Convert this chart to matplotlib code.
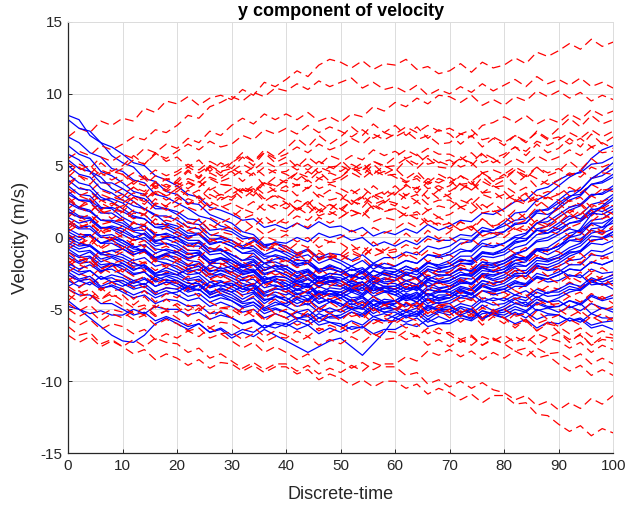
import numpy as np
import matplotlib
matplotlib.use("Agg")
import matplotlib.pyplot as plt

plt.rcParams.update({"font.family": ["Liberation Sans", "DejaVu Sans"], "font.size": 11,
                     "axes.unicode_minus": False})

# sample times (every 2 steps)
t = np.arange(0, 101, 2)

# ---- solid blue trajectories ----
blue_upper = [
    [8.5, 8.2, 7.1, 6.6, 5.7, 5.2, 4.9, 4.1, 3.9, 3.2, 3.0, 2.4, 2.3, 1.6, 1.3, 1.0, 0.4, 0.2, -0.5, -0.4, -0.8, -1.2, -0.9, -1.5, -1.3, -1.6, -2.0, -1.6, -2.2, -1.8, -2.0, -1.6, -1.8, -1.2, -1.3, -1.0, -0.4, -0.3, 0.4, 0.5, 1.0, 1.7, 1.8, 2.6, 3.0, 3.6, 4.2, 4.6, 5.5, 6.1, 6.4],
    [8.2, 7.6, 7.4, 6.6, 6.3, 5.8, 5.2, 5.0, 4.3, 4.0, 3.6, 3.0, 2.8, 2.1, 1.9, 1.6, 1.2, 1.3, 0.7, 0.9, 0.6, 1.0, 0.6, 1.1, 0.7, 0.8, 0.4, 0.7, 0.1, 0.4, 0.2, 0.6, 0.3, 0.9, 0.5, 0.8, 1.2, 1.1, 1.7, 1.6, 2.0, 2.5, 2.6, 3.3, 3.5, 4.0, 4.4, 4.5, 5.1, 5.2, 5.6],
    [7.0, 6.6, 5.9, 5.6, 4.8, 4.6, 4.0, 3.8, 3.0, 2.8, 2.4, 2.0, 1.5, 1.3, 0.8, 0.6, 0.1, -0.1, -0.7, -0.8, -1.2, -1.6, -1.6, -2.2, -2.1, -2.4, -2.8, -2.4, -2.9, -2.5, -2.6, -2.2, -2.4, -1.8, -1.9, -1.6, -1.0, -0.9, -0.2, 0.0, 0.4, 1.0, 1.0, 1.8, 2.0, 2.6, 3.2, 3.3, 4.1, 4.3, 4.8],
    [6.4, 5.8, 5.5, 4.6, 4.3, 3.8, 3.2, 3.0, 2.2, 2.0, 1.6, 1.0, 0.9, 0.2, 0.1, -0.2, -0.7, -0.8, -1.3, -1.3, -1.6, -2.0, -1.8, -2.3, -2.0, -2.2, -2.7, -2.5, -3.1, -2.8, -3.0, -2.6, -2.8, -2.2, -2.4, -2.4, -1.8, -1.8, -1.1, -1.2, -1.0, -0.4, -0.2, 0.6, 0.8, 1.4, 1.9, 2.2, 2.9, 3.1, 3.6],
    [5.8, 5.4, 4.6, 4.2, 3.4, 3.0, 2.5, 2.0, 1.6, 1.0, 0.8, 0.3, 0.3, -0.4, -0.3, -0.6, -1.1, -1.1, -1.8, -1.7, -2.0, -2.5, -2.3, -2.9, -2.7, -3.0, -3.4, -3.1, -3.7, -3.4, -3.6, -3.2, -3.5, -2.9, -3.2, -3.0, -2.6, -2.5, -1.9, -1.9, -1.6, -1.1, -0.9, -0.2, 0.0, 0.4, 1.0, 1.2, 1.9, 2.1, 2.6],
    [5.0, 4.4, 4.2, 3.4, 3.1, 2.6, 2.2, 2.0, 1.5, 1.5, 1.2, 0.7, 0.6, -0.1, -0.1, -0.4, -0.8, -0.6, -1.2, -0.9, -1.0, -1.4, -1.2, -1.8, -1.5, -1.8, -2.3, -2.1, -2.7, -2.4, -2.6, -3.0, -2.8, -3.4, -3.1, -3.2, -2.8, -2.9, -2.3, -2.4, -2.2, -1.6, -1.5, -0.8, -0.7, -0.2, 0.3, 0.5, 1.2, 1.3, 1.8],
    [4.4, 3.8, 3.6, 2.8, 2.5, 2.0, 1.5, 1.3, 0.7, 0.6, 0.2, -0.2, -0.2, -0.8, -0.8, -1.2, -1.6, -1.5, -2.1, -2.0, -2.4, -2.8, -2.6, -3.2, -3.0, -3.4, -3.0, -3.3, -2.8, -3.1, -3.0, -2.6, -2.8, -2.2, -2.4, -2.2, -1.8, -1.9, -1.3, -1.4, -1.2, -0.7, -0.5, 0.2, 0.3, 0.8, 1.3, 1.6, 2.3, 2.5, 3.0],
    [3.6, 3.0, 2.9, 2.1, 2.0, 1.4, 1.0, 0.8, 0.2, 0.2, -0.2, -0.6, -0.6, -1.2, -1.1, -1.6, -2.0, -1.9, -2.5, -2.3, -2.6, -3.0, -2.6, -3.1, -2.7, -2.8, -3.2, -3.1, -3.7, -3.5, -3.8, -3.4, -3.7, -3.1, -3.5, -3.4, -3.0, -3.3, -2.7, -3.0, -2.8, -2.3, -2.3, -1.6, -1.7, -1.4, -0.9, -0.6, 0.1, 0.0, 0.4],
    [3.0, 2.6, 2.6, 2.0, 2.1, 1.8, 1.4, 1.3, 0.7, 0.8, 0.4, 0.0, 0.3, -0.3, 0.0, -0.2, -0.6, -0.2, -0.7, -0.3, -0.4, 0.0, -0.3, 0.3, 0.0, 0.2, -0.2, 0.0, -0.6, -0.3, -0.6, -0.2, -0.5, 0.1, -0.2, -0.2, 0.2, 0.1, 0.7, 0.5, 0.8, 1.2, 1.3, 1.9, 1.9, 2.4, 2.9, 3.0, 3.7, 3.8, 4.2],
    [2.4, 2.0, 1.8, 1.2, 1.1, 0.8, 0.4, 0.2, -0.4, -0.4, -0.8, -1.2, -1.0, -1.6, -1.4, -1.8, -2.3, -2.2, -2.9, -2.8, -3.2, -3.6, -3.3, -3.9, -3.5, -3.6, -3.2, -3.5, -2.9, -3.2, -3.2, -3.6, -3.4, -4.0, -3.7, -3.8, -3.4, -3.6, -3.0, -3.2, -3.0, -2.6, -2.7, -2.1, -2.3, -2.0, -1.6, -1.5, -0.9, -1.0, -0.6],
    [5.4, 4.8, 4.6, 3.8, 3.8, 3.4, 2.9, 2.7, 2.0, 2.0, 1.8, 1.3, 1.2, 0.5, 0.6, 0.4, -0.1, 0.0, -0.6, -0.4, -0.6, -1.1, -0.8, -1.4, -1.1, -1.2, -1.6, -1.2, -1.8, -1.4, -1.4, -1.0, -1.2, -0.6, -0.8, -0.6, -0.1, -0.2, 0.5, 0.3, 0.4, 0.9, 1.0, 1.7, 1.6, 2.0, 2.6, 2.9, 3.7, 3.9, 4.4],
    [4.0, 3.4, 3.3, 2.6, 2.7, 2.4, 1.8, 1.6, 0.9, 0.9, 0.6, 0.1, 0.2, -0.5, -0.3, -0.6, -1.1, -0.9, -1.5, -1.2, -1.4, -1.9, -1.6, -2.3, -1.9, -2.2, -2.7, -2.2, -2.8, -2.3, -2.4, -2.0, -2.3, -1.7, -2.1, -2.0, -1.5, -1.7, -1.0, -1.2, -0.8, -0.3, -0.2, 0.5, 0.5, 1.0, 1.5, 1.3, 2.0, 1.8, 2.2],
    [3.2, 2.6, 2.5, 1.7, 1.7, 1.2, 0.6, 0.8, 0.1, 0.3, 0.0, -0.6, -0.3, -1.0, -0.8, -1.4, -1.9, -1.6, -2.3, -1.9, -2.2, -2.7, -2.3, -2.9, -2.5, -2.6, -3.1, -2.7, -3.3, -2.9, -3.0, -2.5, -2.9, -2.3, -2.7, -2.6, -2.1, -2.4, -1.7, -2.0, -1.8, -1.3, -1.6, -0.9, -1.2, -0.8, -0.2, -0.3, 0.6, 0.7, 1.4],
]
blue_mid = [
    [2.0, 1.5, 1.4, 0.7, 0.6, 0.2, -0.2, 0.0, -0.6, -0.4, -0.6, -1.1, -1.1, -1.8, -1.8, -2.2, -2.6, -2.4, -3.0, -2.7, -2.8, -3.3, -3.2, -3.9, -3.7, -4.0, -4.4, -4.1, -4.7, -4.3, -4.4, -4.0, -4.2, -3.6, -3.8, -3.6, -3.2, -3.2, -2.6, -2.7, -2.4, -2.0, -2.0, -1.4, -1.5, -1.2, -0.7, -0.4, 0.3, 0.5, 1.2],
    [1.4, 1.0, 1.2, 0.6, 0.8, 0.6, 0.1, -0.2, -0.8, -0.9, -1.2, -1.6, -1.7, -2.3, -2.3, -2.6, -3.0, -2.9, -3.5, -3.3, -3.6, -3.2, -3.5, -3.0, -3.3, -3.4, -3.8, -3.5, -4.1, -3.8, -4.0, -4.4, -4.2, -4.8, -4.5, -4.6, -4.2, -4.3, -3.7, -3.8, -3.6, -3.2, -3.3, -2.7, -2.9, -2.6, -2.2, -2.3, -1.7, -1.9, -1.6],
    [1.0, 0.6, 0.6, 0.0, 0.0, -0.4, -0.8, -0.9, -1.5, -1.5, -1.8, -2.2, -2.0, -2.6, -2.3, -2.4, -2.8, -2.6, -3.2, -2.9, -3.0, -3.4, -3.4, -4.0, -3.9, -4.2, -3.8, -4.1, -3.5, -3.8, -3.6, -3.2, -3.5, -2.9, -3.2, -3.0, -2.6, -2.7, -2.1, -2.3, -2.0, -1.6, -1.4, -0.8, -0.9, -0.6, -0.2, -0.1, 0.5, 0.3, 0.6],
    [0.6, 0.2, 0.2, -0.4, -0.4, -0.8, -1.2, -0.9, -1.5, -1.2, -1.4, -1.9, -2.0, -2.6, -2.6, -3.0, -3.4, -3.2, -3.8, -3.5, -3.8, -4.2, -4.0, -4.6, -4.3, -4.6, -5.0, -4.7, -5.3, -4.9, -5.0, -4.6, -4.8, -4.2, -4.4, -4.2, -3.8, -4.0, -3.4, -3.6, -3.4, -3.0, -3.3, -2.8, -3.1, -3.0, -2.6, -2.8, -2.2, -2.5, -2.4],
    [0.2, -0.2, 0.2, -0.4, -0.1, -0.2, -0.6, -1.0, -1.6, -1.8, -2.2, -2.6, -2.5, -3.1, -3.0, -3.4, -3.8, -3.5, -4.1, -3.8, -4.0, -3.6, -3.9, -3.4, -3.7, -3.8, -4.2, -4.1, -4.7, -4.5, -4.8, -5.2, -4.9, -5.5, -5.1, -5.2, -4.8, -5.0, -4.4, -4.7, -4.6, -4.2, -4.4, -3.8, -4.1, -4.0, -3.6, -3.7, -3.1, -3.3, -3.2],
    [-0.2, -0.6, -0.5, -1.1, -0.9, -1.2, -1.6, -1.4, -2.0, -1.8, -2.0, -2.4, -2.2, -2.8, -2.5, -2.8, -3.2, -3.4, -4.0, -4.0, -4.4, -4.8, -4.6, -5.2, -4.9, -5.2, -4.8, -5.0, -4.4, -4.6, -4.4, -4.8, -4.5, -5.1, -4.7, -4.8, -5.2, -5.0, -5.6, -5.3, -5.4, -5.0, -5.2, -4.6, -4.9, -4.8, -4.4, -4.6, -4.0, -4.3, -4.0],
    [-0.6, -1.0, -0.9, -1.5, -1.3, -1.6, -2.0, -1.9, -2.5, -2.3, -2.6, -3.0, -2.9, -3.5, -3.3, -3.6, -4.0, -3.8, -4.4, -4.1, -4.2, -4.6, -4.3, -4.9, -4.5, -4.6, -5.0, -4.9, -5.5, -5.3, -5.6, -5.2, -5.4, -4.8, -5.1, -5.0, -4.6, -4.8, -4.2, -4.4, -4.2, -4.6, -4.5, -5.1, -4.9, -5.2, -4.8, -5.1, -4.6, -4.9, -5.0],
    [-1.0, -1.4, -1.3, -1.9, -1.8, -2.2, -2.6, -2.4, -3.0, -2.7, -3.0, -3.4, -3.0, -3.5, -3.1, -3.2, -3.6, -3.7, -4.3, -4.3, -4.8, -5.2, -5.0, -5.6, -5.3, -5.6, -5.2, -5.5, -4.9, -5.2, -5.2, -5.6, -5.3, -5.9, -5.5, -5.8, -5.4, -5.7, -5.1, -5.4, -5.6, -5.2, -5.6, -5.0, -5.3, -5.4, -5.8, -5.7, -6.3, -6.1, -6.4],
    [-1.4, -1.8, -1.7, -2.3, -2.2, -2.6, -3.0, -2.8, -3.4, -3.1, -3.4, -3.8, -3.6, -4.2, -3.9, -4.2, -4.6, -4.5, -5.1, -4.9, -5.2, -5.6, -5.5, -6.1, -5.9, -6.2, -5.8, -6.1, -5.5, -5.8, -5.8, -5.4, -5.5, -4.9, -5.0, -4.8, -5.2, -5.0, -5.6, -5.3, -5.6, -6.0, -5.7, -6.3, -5.9, -6.0, -5.6, -5.9, -5.3, -5.6, -5.6],
    [-2.0, -2.4, -2.3, -2.9, -2.8, -3.2, -3.6, -3.4, -4.0, -3.7, -4.0, -4.4, -4.2, -4.8, -4.5, -4.8, -5.2, -5.0, -5.6, -5.3, -5.6, -5.2, -5.5, -4.9, -5.2, -5.0, -4.6, -4.9, -4.3, -4.7, -4.6, -4.2, -4.5, -3.9, -4.2, -4.0, -3.6, -3.9, -3.3, -3.6, -3.6, -4.0, -3.7, -4.2, -3.8, -3.8, -3.4, -3.6, -3.0, -3.3, -3.0],
    [-0.8, -1.3, -1.0, -1.7, -1.4, -1.8, -2.3, -1.9, -2.5, -2.1, -2.4, -2.9, -2.7, -3.4, -3.1, -3.4, -2.9, -3.3, -2.7, -3.1, -3.2, -3.7, -3.4, -4.1, -3.7, -4.0, -3.5, -3.9, -3.3, -3.7, -3.8, -4.3, -3.9, -4.6, -4.2, -4.2, -3.7, -4.0, -3.4, -3.7, -3.6, -3.1, -3.2, -2.5, -2.7, -2.4, -1.9, -1.9, -1.2, -1.3, -1.0],
    [1.2, 0.7, 0.8, 0.1, 0.2, -0.2, -0.7, -0.5, -1.1, -0.8, -1.0, -1.5, -1.2, -1.8, -1.4, -1.6, -2.1, -1.9, -2.6, -2.3, -2.6, -3.1, -2.8, -3.4, -3.0, -3.2, -3.7, -3.3, -3.9, -3.5, -3.6, -4.1, -3.8, -4.4, -4.0, -4.0, -3.5, -3.7, -3.0, -3.2, -3.0, -2.5, -2.5, -1.8, -1.9, -1.6, -1.1, -0.9, -0.2, -0.1, 0.2],
    [-1.2, -1.7, -1.4, -2.1, -1.8, -2.0, -2.5, -2.4, -3.1, -2.9, -3.2, -3.7, -3.3, -3.9, -3.5, -3.8, -4.3, -3.9, -4.6, -4.1, -4.4, -3.9, -4.3, -3.7, -4.1, -4.0, -4.5, -4.2, -4.9, -4.5, -4.6, -4.1, -4.5, -3.9, -4.3, -4.2, -3.7, -3.9, -3.2, -3.4, -3.2, -2.7, -2.7, -2.0, -2.1, -1.8, -1.3, -1.0, -0.2, -0.1, 0.4],
    [2.6, 2.1, 1.9, 1.2, 1.2, 1.0, 0.5, 0.5, -0.2, -0.1, -0.4, -0.9, -0.9, -1.6, -1.5, -2.0, -2.5, -2.4, -3.1, -3.0, -3.4, -3.9, -3.8, -4.5, -4.3, -4.8, -4.3, -4.7, -4.1, -4.5, -4.4, -3.9, -4.1, -3.4, -3.6, -3.4, -2.9, -3.2, -2.6, -2.9, -2.6, -2.1, -2.5, -1.9, -2.3, -2.2, -2.7, -2.6, -3.3, -3.2, -3.6],
    [0.4, 0.0, 0.2, -0.4, -0.2, -0.6, -1.0, -0.8, -1.4, -1.2, -1.6, -2.0, -1.8, -2.4, -2.1, -2.4, -2.0, -2.4, -1.8, -2.2, -2.2, -2.7, -2.4, -3.1, -2.8, -3.0, -2.6, -2.9, -2.3, -2.6, -2.4, -2.0, -2.3, -1.7, -2.0, -1.8, -1.3, -1.3, -0.6, -0.7, -0.4, 0.1, 0.3, 1.0, 1.1, 1.6, 2.1, 2.3, 3.0, 3.0, 3.4],
]
blue_lower = [
    [-2.6, -3.0, -2.9, -3.5, -3.4, -3.8, -4.2, -4.0, -4.6, -4.3, -4.4, -4.8, -4.7, -5.3, -5.2, -5.6, -6.0, -5.7, -6.3, -5.9, -6.0, -6.4, -6.1, -6.7, -6.3, -6.6, -6.2, -6.3, -5.7, -5.8, -5.4, -5.0, -5.3, -4.7, -5.0, -5.0, -5.4, -5.1, -5.7, -5.3, -5.2, -4.8, -5.1, -4.5, -4.8, -4.8, -4.4, -4.7, -4.1, -4.4, -4.2],
    [-4.4, -5.0, -5.6, -6.2, -6.8, -7.2, -7.3, -6.8, -6.0, -5.6, -6.0, -6.4, -6.0, -6.6, -6.3, -6.8, -6.4, -6.6, -6.1, -6.3, -6.0, -5.6, -5.8, -5.3, -5.6, -5.6, -5.2, -5.4, -4.9, -5.2, -5.0, -4.6, -4.8, -4.3, -4.6, -4.4, -4.0, -4.2, -3.7, -4.0, -3.8, -3.4, -3.4, -2.8, -2.9, -2.6, -2.2, -2.3, -1.7, -1.9, -1.6],
    [-3.6, -4.0, -4.0, -4.6, -4.6, -5.0, -5.4, -5.2, -5.8, -5.5, -5.8, -6.2, -6.0, -6.6, -6.4, -7.0, -6.6, -6.9, -6.4, -6.8, -7.2, -7.6, -8.0, -7.6, -7.2, -7.0, -7.6, -8.2, -7.4, -6.6, -5.6, -5.9, -5.6, -6.2, -6.0, -6.0, -5.6, -5.8, -5.3, -5.2, -5.0, -4.6, -4.8, -4.3, -4.5, -4.2, -3.8, -3.6, -3.0, -2.9, -2.6],
    [-4.8, -5.0, -5.3, -5.1, -5.4, -5.4, -5.0, -5.3, -4.8, -5.0, -5.0, -5.4, -5.2, -5.7, -5.4, -5.6, -6.0, -5.8, -6.3, -6.0, -6.2, -5.8, -6.1, -5.6, -5.9, -6.0, -6.4, -6.2, -6.7, -6.4, -6.4, -6.0, -6.2, -5.7, -6.0, -5.8, -5.4, -5.6, -5.1, -5.3, -5.0, -5.4, -5.2, -5.7, -5.4, -5.4, -5.8, -5.6, -6.1, -5.9, -5.8],
    [-0.4, -0.8, -0.6, -1.1, -0.9, -0.8, -1.2, -0.9, -1.4, -1.1, -1.0, -1.4, -1.2, -1.8, -1.5, -1.6, -2.0, -1.7, -2.3, -2.0, -2.0, -2.4, -2.2, -2.8, -2.5, -2.6, -2.2, -2.5, -1.9, -2.2, -2.0, -1.6, -1.8, -1.2, -1.4, -1.2, -0.8, -1.0, -0.4, -0.6, -0.4, 0.0, -0.1, 0.5, 0.3, 0.6, 1.0, 1.1, 1.7, 1.6, 2.0],
    [1.8, 1.4, 1.3, 0.7, 0.7, 0.4, 0.0, 0.3, -0.3, 0.0, 0.0, -0.4, -0.4, -1.0, -0.9, -1.2, -1.6, -1.3, -1.8, -1.5, -1.4, -1.8, -1.8, -2.4, -2.2, -2.4, -2.0, -2.4, -1.8, -2.1, -2.2, -2.6, -2.3, -2.9, -2.6, -2.6, -2.2, -2.3, -1.7, -1.8, -1.6, -1.2, -0.9, -0.3, -0.2, 0.2, 0.6, 0.4, 1.0, 0.7, 1.0],
    [-1.8, -2.2, -1.9, -2.4, -2.0, -1.8, -2.2, -2.1, -2.7, -2.5, -2.6, -2.2, -2.5, -1.9, -2.2, -2.0, -2.4, -2.3, -2.9, -2.7, -2.8, -3.2, -2.9, -3.4, -3.1, -3.0, -3.4, -3.1, -3.7, -3.4, -3.4, -3.0, -3.3, -2.7, -3.0, -2.8, -2.4, -2.7, -2.1, -2.4, -2.2, -1.8, -2.0, -1.4, -1.6, -1.4, -1.0, -1.0, -0.4, -0.5, -0.2],
    [0.0, -0.4, -0.6, -1.2, -1.2, -1.4, -1.8, -2.0, -2.6, -2.6, -2.8, -3.2, -3.2, -3.8, -3.6, -3.8, -3.4, -3.7, -3.1, -3.4, -3.4, -3.0, -3.3, -2.7, -3.0, -3.0, -2.6, -2.9, -2.3, -2.6, -2.8, -2.4, -2.6, -2.0, -2.2, -2.0, -1.6, -1.6, -1.0, -1.1, -0.8, -0.2, 0.2, 1.0, 1.4, 2.2, 2.8, 3.3, 4.1, 4.6, 5.2],
    [-3.0, -3.4, -3.1, -3.6, -3.3, -3.6, -4.0, -3.7, -4.2, -3.9, -3.8, -3.4, -3.7, -3.1, -3.4, -3.2, -3.6, -3.3, -3.9, -3.6, -3.6, -4.0, -3.7, -4.3, -3.9, -4.0, -3.6, -4.0, -3.4, -3.7, -4.0, -3.6, -3.6, -3.0, -3.1, -3.0, -2.6, -2.6, -2.0, -2.1, -1.8, -1.4, -1.4, -0.8, -0.9, -0.6, 0.0, 0.6, 1.6, 2.2, 2.8],
    [-2.2, -2.6, -2.3, -2.9, -2.6, -2.8, -3.2, -2.9, -3.4, -3.1, -3.2, -3.6, -3.6, -4.2, -4.0, -4.4, -4.8, -4.5, -5.0, -4.7, -4.6, -4.2, -4.4, -3.8, -4.0, -3.8, -3.4, -3.7, -3.1, -3.4, -3.4, -3.8, -3.5, -4.1, -3.8, -3.8, -4.2, -3.9, -4.5, -4.2, -4.4, -4.0, -4.2, -3.6, -3.9, -3.6, -3.2, -3.4, -2.8, -3.1, -2.8],
    [-3.4, -3.0, -3.3, -2.7, -3.1, -3.0, -3.4, -3.2, -3.8, -3.5, -3.6, -4.1, -3.9, -4.5, -4.2, -4.4, -4.9, -4.7, -5.3, -5.0, -5.2, -5.7, -5.3, -5.9, -5.5, -5.4, -5.0, -5.3, -4.7, -5.0, -4.6, -4.1, -4.3, -3.6, -3.8, -3.6, -3.1, -3.2, -2.5, -2.6, -2.4, -1.8, -1.7, -0.9, -0.9, -0.6, 0.0, 0.2, 1.0, 1.0, 1.4],
    [-2.4, -2.9, -2.7, -3.4, -3.1, -3.4, -3.0, -3.3, -2.7, -3.0, -3.0, -3.5, -3.3, -4.0, -3.7, -4.0, -4.5, -4.2, -4.9, -4.5, -4.8, -4.3, -4.7, -4.1, -4.5, -4.2, -4.7, -4.4, -5.1, -4.7, -5.0, -5.5, -5.1, -5.7, -5.2, -5.4, -4.9, -5.3, -4.7, -5.1, -4.8, -4.3, -4.7, -4.1, -4.5, -4.4, -4.9, -4.6, -5.3, -4.9, -5.2],
]

# ---- dashed red trajectories ----
red_high = [
    [7.0, 7.6, 7.3, 8.1, 7.8, 8.3, 8.1, 9.0, 8.7, 9.5, 9.3, 9.8, 9.2, 9.7, 9.9, 9.6, 10.3, 9.9, 10.8, 10.5, 11.0, 11.6, 11.2, 12.0, 12.4, 12.2, 11.8, 12.3, 11.7, 12.1, 12.0, 12.4, 11.7, 11.9, 11.4, 11.6, 12.1, 11.5, 12.2, 11.8, 12.0, 12.5, 12.1, 12.9, 12.6, 13.0, 13.5, 13.1, 13.8, 13.3, 13.6],
    [5.5, 6.0, 5.7, 6.4, 6.1, 6.5, 7.0, 6.8, 7.5, 7.3, 7.8, 8.5, 8.3, 9.1, 9.4, 9.8, 9.5, 10.1, 9.8, 10.4, 10.2, 10.7, 10.3, 10.9, 10.5, 10.8, 11.1, 10.4, 10.8, 10.3, 10.5, 10.1, 10.6, 9.9, 10.3, 10.0, 10.5, 10.1, 10.7, 10.2, 10.6, 11.0, 10.5, 11.2, 10.7, 11.0, 10.6, 11.1, 10.5, 10.8, 10.4],
    [4.5, 5.1, 4.8, 5.6, 5.3, 5.8, 5.5, 6.2, 5.9, 6.5, 6.2, 6.9, 6.6, 7.4, 7.1, 7.8, 8.3, 7.9, 8.6, 8.2, 8.6, 8.2, 8.7, 8.1, 8.4, 8.0, 8.6, 8.4, 9.1, 8.8, 9.4, 9.1, 9.7, 9.3, 9.9, 9.8, 9.4, 9.9, 9.2, 9.6, 9.2, 9.8, 9.5, 10.2, 9.8, 10.2, 9.7, 10.1, 9.5, 9.9, 9.6],
    [3.8, 4.3, 4.0, 4.7, 4.4, 4.8, 5.4, 5.1, 5.8, 5.5, 6.0, 6.5, 6.1, 6.7, 6.3, 6.5, 7.1, 6.8, 7.5, 7.2, 7.6, 7.2, 7.8, 7.3, 7.7, 7.4, 7.0, 7.5, 6.9, 7.3, 7.0, 7.4, 6.8, 7.1, 6.5, 6.6, 7.2, 7.0, 7.8, 8.0, 8.4, 8.0, 8.5, 7.9, 8.3, 8.0, 8.6, 8.2, 8.9, 8.5, 8.8],
    [3.0, 3.5, 3.2, 3.9, 3.6, 4.0, 4.5, 4.1, 4.7, 4.3, 4.6, 5.1, 4.7, 5.3, 4.9, 5.2, 5.7, 5.3, 5.9, 5.5, 5.8, 6.3, 5.9, 6.5, 6.1, 6.4, 6.9, 6.5, 7.2, 6.8, 7.2, 7.7, 7.3, 7.8, 7.4, 7.6, 7.2, 7.5, 6.8, 7.0, 6.6, 7.1, 6.7, 7.3, 6.8, 7.0, 6.5, 6.9, 6.3, 6.6, 6.2],
    [2.4, 2.9, 2.6, 3.3, 3.0, 3.4, 3.9, 3.6, 4.3, 4.0, 4.4, 4.9, 4.5, 5.0, 4.6, 4.8, 4.4, 4.9, 4.3, 4.7, 4.4, 4.0, 4.6, 4.1, 4.5, 4.2, 4.8, 4.6, 5.3, 5.0, 5.6, 6.1, 5.7, 6.2, 5.8, 5.8, 5.4, 5.9, 5.2, 5.5, 5.0, 5.5, 5.1, 5.7, 5.3, 5.6, 6.1, 5.7, 6.3, 5.9, 6.0],
    [1.6, 2.1, 1.8, 2.4, 2.0, 2.2, 2.8, 2.5, 3.2, 2.9, 3.2, 3.8, 3.5, 4.2, 3.9, 4.2, 4.7, 4.3, 4.9, 4.5, 4.6, 5.1, 4.7, 5.3, 4.9, 5.0, 4.6, 4.9, 4.3, 4.6, 4.2, 3.8, 4.3, 3.7, 4.1, 3.8, 4.3, 3.9, 4.5, 4.0, 4.2, 4.7, 4.3, 4.9, 4.5, 4.8, 4.3, 4.7, 4.1, 4.5, 4.4],
    [2.0, 2.6, 2.3, 3.0, 2.7, 3.0, 3.5, 3.2, 3.9, 3.5, 3.8, 3.4, 3.9, 3.3, 3.7, 3.6, 3.1, 3.6, 3.0, 3.4, 3.2, 3.7, 3.4, 4.1, 3.8, 4.0, 4.5, 4.1, 4.7, 4.3, 4.4, 3.9, 4.1, 3.4, 3.6, 3.2, 3.7, 3.3, 3.9, 3.5, 3.6, 3.1, 3.5, 2.9, 3.2, 3.0, 3.5, 3.1, 3.7, 3.3, 3.4],
    [3.4, 2.9, 3.2, 2.5, 2.8, 2.6, 3.1, 2.9, 3.6, 3.2, 3.6, 4.1, 3.8, 4.5, 4.1, 4.6, 5.1, 4.7, 5.3, 4.9, 5.2, 4.7, 5.1, 4.5, 4.9, 4.6, 5.1, 4.7, 5.3, 4.9, 5.0, 5.5, 5.1, 5.7, 5.2, 5.4, 4.9, 5.2, 4.5, 4.7, 4.4, 4.9, 4.5, 4.1, 3.7, 4.0, 4.5, 4.2, 4.9, 4.6, 5.0],
    [0.6, 1.2, 1.0, 1.8, 1.6, 2.4, 2.9, 2.6, 3.3, 2.9, 3.4, 2.9, 3.3, 2.7, 3.0, 2.8, 3.3, 3.1, 3.8, 3.5, 4.0, 4.5, 4.2, 4.9, 4.6, 5.2, 5.7, 5.4, 6.1, 5.7, 6.0, 5.5, 5.8, 5.1, 5.3, 5.0, 5.5, 5.2, 5.9, 5.5, 5.8, 6.3, 6.0, 6.7, 6.4, 6.8, 7.3, 6.9, 7.5, 7.0, 7.4],
    [5.2, 4.7, 5.0, 4.3, 4.6, 4.4, 3.9, 4.1, 3.4, 3.7, 3.4, 3.9, 3.5, 4.1, 3.7, 3.6, 3.1, 3.4, 2.7, 2.9, 2.4, 1.9, 2.2, 1.5, 1.8, 1.4, 1.9, 1.6, 2.3, 1.9, 2.0, 1.5, 1.8, 1.1, 1.4, 1.0, 0.5, 0.8, 0.1, 0.4, 0.2, 0.7, 0.5, 1.2, 0.9, 1.4, 1.9, 1.6, 2.3, 2.0, 2.4],
    [3.6, 4.3, 3.7, 4.5, 4.0, 4.4, 3.7, 4.3, 3.5, 4.1, 3.8, 4.6, 4.1, 4.9, 4.3, 4.6, 3.9, 4.5, 3.6, 4.2, 3.8, 4.5, 3.9, 4.6, 3.9, 4.2, 4.9, 4.3, 5.1, 4.4, 4.8, 4.1, 4.6, 3.8, 4.4, 4.0, 3.3, 3.9, 3.1, 3.6, 3.2, 2.5, 3.0, 2.2, 2.8, 2.4, 1.7, 2.3, 1.5, 2.1, 1.6],
    [2.8, 2.1, 2.7, 1.9, 2.4, 2.0, 2.8, 2.3, 3.1, 2.6, 3.0, 2.3, 2.9, 2.2, 2.8, 2.6, 3.4, 2.9, 3.8, 3.2, 3.6, 2.9, 3.5, 2.8, 3.3, 3.0, 2.3, 2.8, 2.0, 2.5, 2.2, 3.0, 2.5, 3.3, 2.7, 3.0, 3.8, 3.3, 4.2, 3.6, 4.0, 4.7, 4.1, 4.9, 4.3, 4.6, 5.3, 4.7, 5.5, 4.9, 5.2],
    [4.2, 4.9, 4.4, 5.2, 4.6, 5.0, 5.7, 5.1, 5.9, 5.3, 5.6, 4.9, 5.4, 4.6, 5.2, 4.8, 5.6, 5.0, 5.9, 5.2, 5.6, 4.9, 5.6, 5.0, 5.7, 5.4, 4.7, 5.2, 4.4, 5.0, 4.6, 5.4, 4.8, 5.5, 4.9, 4.8, 5.6, 5.0, 5.8, 5.2, 5.6, 6.3, 5.7, 6.5, 5.9, 6.2, 6.9, 6.3, 7.2, 6.5, 7.0],
    [0.8, 1.5, 1.0, 1.9, 1.3, 1.8, 2.5, 1.9, 2.7, 2.1, 2.6, 3.3, 2.7, 3.5, 2.9, 3.4, 2.7, 3.3, 2.5, 3.0, 2.6, 1.9, 2.5, 1.7, 2.3, 1.8, 2.6, 2.1, 2.9, 2.4, 3.0, 3.7, 3.1, 3.9, 3.3, 3.6, 4.3, 3.7, 4.5, 3.9, 4.4, 3.7, 4.3, 3.5, 4.0, 3.6, 2.9, 3.5, 2.8, 3.4, 3.2],
    [1.4, 2.1, 1.7, 2.6, 2.2, 2.8, 3.5, 3.0, 3.8, 3.3, 4.0, 4.7, 4.2, 5.0, 4.5, 5.2, 5.9, 5.3, 6.1, 5.6, 6.2, 6.9, 6.3, 7.1, 6.5, 7.0, 7.7, 7.1, 7.9, 7.3, 7.8, 7.1, 7.7, 6.9, 7.5, 7.2, 6.5, 7.1, 6.3, 6.9, 6.4, 7.1, 6.6, 7.4, 6.9, 7.6, 8.3, 7.7, 8.5, 7.9, 8.2],
]
red_mid = [
    [0.4, 0.9, 0.6, 1.3, 1.0, 1.4, 1.9, 1.6, 2.3, 1.9, 2.2, 2.7, 2.4, 3.0, 2.6, 3.0, 3.5, 3.2, 3.9, 3.6, 4.0, 3.6, 4.0, 3.4, 3.7, 3.4, 3.0, 3.5, 2.9, 3.2, 3.0, 3.6, 3.4, 4.1, 3.8, 4.2, 3.7, 3.8, 3.1, 3.2, 2.6, 3.0, 2.4, 2.7, 2.1, 2.0, 2.6, 2.3, 2.9, 2.5, 2.8],
    [1.0, 0.6, 1.0, 0.4, 0.7, 0.4, 1.0, 0.9, 1.6, 1.4, 1.6, 2.1, 1.8, 2.5, 2.1, 2.4, 2.0, 2.5, 1.9, 2.3, 2.0, 2.6, 2.3, 3.0, 2.6, 2.8, 2.4, 2.9, 2.3, 2.6, 2.4, 2.0, 2.5, 1.9, 2.2, 2.0, 2.6, 2.3, 3.0, 2.7, 3.0, 2.6, 3.1, 2.5, 2.8, 2.6, 2.1, 2.4, 1.7, 2.0, 1.6],
    [-0.2, 0.3, 0.0, 0.7, 0.4, 0.8, 0.4, 0.9, 0.3, 0.7, 0.6, 1.1, 0.8, 1.4, 1.0, 1.4, 2.0, 1.7, 2.4, 2.0, 2.4, 2.0, 2.5, 1.9, 2.3, 2.0, 1.5, 1.8, 1.1, 1.4, 1.2, 1.7, 1.3, 1.9, 1.4, 1.6, 2.1, 1.7, 2.3, 1.8, 2.0, 2.6, 2.3, 3.0, 2.7, 3.0, 2.5, 2.8, 2.1, 2.4, 2.2],
    [-0.8, -0.3, -0.6, 0.1, -0.2, 0.2, -0.2, 0.3, -0.3, 0.1, 0.0, 0.5, 0.2, 0.9, 0.5, 0.8, 0.3, 0.8, 0.2, 0.6, 0.4, 1.0, 0.7, 1.4, 1.0, 1.4, 1.9, 1.5, 2.2, 1.8, 2.0, 1.5, 1.6, 0.9, 1.0, 0.6, 1.1, 0.7, 1.3, 0.8, 1.0, 0.5, 0.9, 0.2, 0.5, 0.2, 0.7, 0.3, 0.9, 0.4, 0.6],
    [-2.0, -1.5, -1.8, -1.1, -1.4, -1.0, -0.4, -0.6, 0.2, 0.0, 0.4, -0.1, 0.3, -0.3, 0.1, -0.2, -0.7, -0.3, -1.0, -0.6, -1.0, -0.4, -0.7, 0.0, -0.3, 0.0, 0.5, 0.1, 0.7, 0.3, 0.6, 1.1, 0.7, 1.3, 0.8, 1.0, 0.5, 0.8, 0.1, 0.3, 0.0, 0.6, 0.3, 1.0, 0.7, 1.2, 0.7, 1.0, 0.3, 0.5, 0.0],
    [-1.4, -1.9, -1.5, -2.2, -1.8, -2.0, -1.5, -1.8, -1.1, -1.3, -1.0, -0.5, -0.8, -0.1, -0.4, -0.2, -0.7, -0.3, -0.9, -0.5, -0.6, -1.1, -0.8, -1.5, -1.1, -1.4, -0.9, -1.3, -0.7, -1.1, -1.0, -0.5, -0.8, -0.1, -0.3, 0.0, -0.5, -0.1, -0.7, -0.3, -0.6, -1.1, -0.7, -1.3, -0.8, -1.0, -1.5, -1.1, -1.8, -1.3, -1.6],
    [-3.0, -2.5, -2.8, -2.1, -2.5, -2.2, -2.7, -2.3, -2.9, -2.4, -2.6, -2.0, -2.3, -1.6, -1.9, -1.6, -2.1, -1.7, -2.3, -1.9, -2.0, -1.5, -1.8, -1.1, -1.4, -1.2, -1.7, -1.4, -2.1, -1.7, -2.0, -2.5, -2.1, -2.7, -2.2, -2.6, -2.1, -2.5, -1.9, -2.3, -2.0, -1.5, -1.8, -1.2, -1.6, -1.4, -1.9, -1.7, -2.4, -2.1, -2.6],
    [-2.6, -3.1, -2.7, -3.3, -2.9, -3.0, -3.5, -3.2, -3.9, -3.5, -3.6, -3.1, -3.5, -2.9, -3.2, -3.0, -2.5, -2.8, -2.2, -2.6, -2.4, -2.9, -2.5, -3.2, -2.8, -3.0, -3.5, -3.1, -3.8, -3.4, -3.6, -3.0, -3.3, -2.6, -2.9, -2.6, -3.1, -2.7, -3.4, -3.0, -3.2, -3.7, -3.3, -3.9, -3.4, -3.6, -3.1, -3.5, -2.9, -3.3, -3.0],
    [-4.0, -4.5, -4.0, -4.3, -3.7, -3.6, -3.1, -3.5, -2.9, -3.3, -3.0, -3.5, -3.3, -4.0, -3.7, -4.0, -4.5, -4.1, -4.8, -4.3, -4.6, -4.1, -4.5, -3.9, -4.3, -4.0, -3.5, -3.8, -3.1, -3.4, -3.0, -3.5, -3.3, -4.0, -3.6, -4.0, -4.5, -4.2, -4.9, -4.5, -5.0, -4.5, -4.9, -4.3, -4.7, -4.6, -4.1, -4.5, -3.9, -4.3, -4.0],
    [0.0, -0.5, -0.1, -0.8, -0.4, -0.6, -1.1, -0.8, -1.5, -1.1, -1.4, -1.9, -1.5, -2.2, -1.8, -2.2, -1.7, -2.1, -1.5, -1.8, -1.6, -2.1, -1.8, -2.5, -2.1, -2.4, -2.9, -2.5, -3.2, -2.8, -3.0, -2.5, -2.9, -2.3, -2.6, -2.4, -1.9, -2.2, -1.5, -1.8, -1.6, -1.1, -1.4, -0.7, -1.0, -0.4, 0.1, -0.2, 0.5, 0.2, 0.8],
    [1.2, 0.7, 1.0, 0.3, 0.5, 0.0, -0.5, -0.2, -0.9, -0.6, -1.0, -1.5, -1.2, -1.9, -1.5, -1.8, -2.3, -2.0, -2.7, -2.3, -2.8, -3.3, -2.9, -3.5, -3.1, -3.4, -2.9, -3.3, -2.7, -3.0, -2.6, -3.1, -2.8, -3.5, -3.1, -3.4, -3.9, -3.6, -4.3, -3.9, -4.2, -3.7, -4.1, -3.5, -3.8, -3.6, -4.1, -3.8, -4.5, -4.1, -4.6],
    [2.6, 2.1, 2.4, 1.7, 1.9, 1.8, 1.3, 1.6, 0.9, 1.2, 1.0, 0.5, 0.8, 0.1, 0.4, 0.2, -0.3, 0.0, -0.7, -0.4, -0.8, -1.3, -0.9, -1.6, -1.2, -1.6, -1.1, -1.4, -0.7, -1.0, -0.8, -1.3, -1.0, -1.7, -1.3, -1.8, -2.3, -2.0, -2.7, -2.3, -2.6, -2.1, -2.5, -1.9, -2.2, -2.0, -1.5, -1.8, -1.1, -1.5, -1.2],
    [1.8, 1.3, 1.6, 0.9, 1.1, 1.2, 1.7, 1.6, 2.4, 2.2, 2.8, 2.3, 2.6, 1.9, 2.2, 1.8, 1.3, 1.6, 0.9, 1.2, 1.0, 1.5, 1.2, 1.9, 1.6, 2.0, 2.5, 2.3, 3.0, 2.7, 3.2, 2.7, 3.0, 2.3, 2.6, 2.6, 2.1, 2.4, 1.7, 1.9, 1.4, 0.9, 1.2, 0.5, 0.8, 0.6, 0.1, 0.4, -0.3, 0.0, -0.4],
    [-1.8, -1.3, -1.6, -0.9, -1.2, -0.8, -1.3, -1.0, -1.7, -1.3, -1.6, -1.1, -1.4, -0.7, -1.0, -0.8, -0.3, -0.6, 0.1, -0.2, 0.2, -0.3, 0.0, -0.7, -0.3, -0.4, -0.9, -0.6, -1.3, -1.0, -1.6, -1.1, -1.5, -0.9, -1.2, -1.2, -1.7, -1.4, -2.1, -1.8, -2.4, -2.9, -2.5, -3.2, -2.8, -3.2, -2.7, -3.1, -2.5, -2.9, -2.6],
    [-0.6, 0.1, -0.4, 0.5, -0.1, 0.4, 1.1, 0.5, 1.3, 0.8, 1.4, 0.7, 1.3, 0.5, 1.1, 0.6, 1.3, 0.7, 1.5, 0.9, 1.4, 2.1, 1.6, 2.4, 1.9, 2.6, 3.3, 2.8, 3.6, 3.0, 3.6, 2.9, 3.5, 2.7, 3.3, 2.8, 2.1, 2.7, 1.9, 2.4, 1.8, 1.1, 1.7, 0.9, 1.5, 1.0, 1.7, 1.1, 1.9, 1.3, 1.6],
    [-1.6, -2.3, -1.7, -2.5, -1.9, -2.4, -1.7, -2.3, -1.5, -2.1, -1.6, -2.3, -1.8, -2.6, -2.0, -2.6, -3.3, -2.7, -3.5, -2.9, -3.0, -2.3, -2.9, -2.1, -2.7, -2.2, -2.9, -2.3, -3.1, -2.5, -2.8, -3.5, -2.9, -3.7, -3.1, -3.6, -2.9, -3.5, -2.7, -3.3, -3.0, -2.3, -2.9, -2.1, -2.7, -2.2, -2.9, -2.4, -3.2, -2.7, -3.4],
    [0.2, -0.5, 0.1, -0.7, -0.1, -0.8, -0.1, -0.7, 0.1, -0.5, -0.2, -0.9, -0.3, -1.1, -0.5, -1.0, -1.7, -1.1, -1.9, -1.3, -1.8, -1.1, -1.7, -0.9, -1.5, -1.2, -0.5, -1.1, -0.3, -0.9, -0.4, 0.3, -0.3, 0.5, -0.1, 0.4, 1.1, 0.5, 1.3, 0.7, 1.2, 1.9, 1.3, 2.1, 1.5, 2.0, 1.3, 1.9, 1.1, 1.7, 1.2],
]
red_low = [
    [-5.0, -5.5, -5.1, -5.8, -5.3, -5.6, -5.1, -5.4, -4.7, -5.0, -4.6, -5.1, -4.7, -5.3, -4.9, -5.0, -5.5, -5.1, -5.8, -5.3, -5.6, -5.1, -5.5, -4.9, -5.3, -5.0, -5.5, -5.3, -6.0, -5.6, -6.0, -5.5, -5.8, -5.1, -5.4, -5.0, -5.5, -5.1, -5.8, -5.3, -5.6, -6.1, -5.8, -6.5, -6.0, -6.2, -5.7, -6.1, -5.5, -5.9, -5.6],
    [-5.6, -6.1, -5.7, -6.4, -6.0, -6.2, -6.7, -6.4, -7.1, -6.7, -7.0, -6.5, -6.9, -6.3, -6.7, -6.6, -7.1, -6.7, -7.3, -6.9, -7.0, -6.5, -6.9, -6.3, -6.6, -6.2, -6.7, -6.3, -6.9, -6.5, -6.6, -7.1, -6.8, -7.5, -7.1, -7.6, -7.1, -7.5, -6.9, -7.2, -6.8, -7.3, -6.9, -7.5, -7.0, -7.2, -7.7, -7.3, -8.0, -7.5, -7.8],
    [-6.2, -6.8, -6.6, -7.4, -7.1, -7.6, -7.1, -7.6, -7.0, -7.3, -7.4, -8.0, -7.7, -8.4, -8.1, -8.6, -9.1, -8.7, -9.2, -8.8, -8.8, -9.3, -8.9, -9.5, -9.1, -9.4, -8.9, -9.3, -8.7, -9.0, -9.0, -9.6, -9.4, -10.2, -9.9, -10.4, -10.0, -10.5, -10.1, -10.6, -10.8, -11.3, -11.0, -11.7, -11.4, -12.0, -11.5, -11.9, -11.2, -11.6, -11.0],
    [-6.8, -7.3, -6.9, -7.6, -7.2, -7.6, -8.1, -7.8, -8.5, -8.1, -8.4, -8.9, -8.5, -9.1, -8.7, -8.8, -9.3, -8.9, -9.4, -9.0, -9.0, -9.5, -9.2, -9.9, -9.5, -9.8, -10.3, -9.9, -10.4, -10.0, -10.0, -10.5, -10.2, -10.9, -10.5, -10.8, -11.3, -10.9, -11.5, -11.0, -11.0, -11.6, -11.5, -12.3, -12.4, -13.0, -13.5, -13.1, -13.8, -13.3, -13.6],
    [-4.6, -5.1, -4.7, -5.4, -5.0, -5.2, -5.7, -5.4, -6.1, -5.7, -6.0, -6.5, -6.3, -7.0, -6.7, -7.2, -7.7, -7.3, -8.0, -7.6, -8.0, -8.5, -8.1, -8.8, -8.4, -8.6, -9.1, -8.7, -9.2, -8.8, -8.8, -8.3, -8.6, -7.9, -8.2, -7.8, -8.3, -7.9, -8.5, -8.0, -8.4, -7.9, -8.3, -7.7, -8.1, -8.0, -8.5, -8.1, -8.8, -8.4, -8.8],
    [-3.4, -3.9, -3.6, -4.3, -3.9, -4.4, -4.9, -4.7, -5.4, -5.1, -5.6, -6.1, -5.7, -6.3, -5.9, -6.0, -6.5, -6.2, -6.9, -6.5, -6.8, -7.3, -6.9, -7.5, -7.1, -7.4, -6.9, -7.3, -6.7, -7.1, -7.0, -6.5, -6.9, -6.3, -6.7, -6.6, -7.1, -6.8, -7.5, -7.1, -7.4, -7.9, -7.7, -8.4, -8.2, -8.8, -9.3, -8.9, -9.6, -9.2, -9.6],
    [-2.4, -1.9, -2.2, -1.5, -1.8, -1.6, -2.1, -1.7, -2.3, -1.9, -2.0, -2.5, -2.2, -2.9, -2.6, -3.0, -3.5, -3.2, -3.9, -3.5, -3.8, -3.3, -3.7, -3.1, -3.4, -3.0, -3.5, -3.3, -4.0, -3.7, -4.4, -4.9, -4.6, -5.3, -5.0, -5.6, -5.1, -5.5, -4.9, -5.2, -5.0, -5.5, -5.3, -6.0, -5.7, -6.2, -6.7, -6.3, -6.9, -6.5, -6.8],
    [-1.0, -1.6, -1.4, -2.2, -1.9, -2.6, -3.1, -2.7, -3.3, -2.9, -3.2, -2.7, -3.1, -2.5, -2.8, -2.4, -2.9, -2.6, -3.3, -3.0, -3.6, -4.1, -3.7, -4.3, -3.9, -4.4, -4.9, -4.5, -5.1, -4.7, -5.0, -4.5, -4.9, -4.3, -4.7, -4.6, -4.1, -4.4, -3.7, -3.9, -3.8, -4.3, -4.0, -4.7, -4.4, -5.0, -5.5, -5.1, -5.7, -5.3, -5.8],
    [-3.6, -4.1, -3.9, -4.6, -4.3, -4.8, -5.3, -4.9, -5.5, -5.1, -5.2, -4.7, -5.1, -4.5, -4.9, -4.8, -5.3, -5.0, -5.7, -5.3, -5.6, -6.1, -5.8, -6.5, -6.1, -6.4, -5.9, -6.3, -5.7, -6.0, -5.8, -6.3, -6.0, -6.7, -6.3, -6.8, -7.3, -6.9, -7.5, -7.0, -7.4, -6.9, -7.3, -6.7, -7.0, -6.6, -7.1, -6.8, -7.5, -7.1, -7.2],
    [-2.8, -3.5, -2.9, -3.7, -3.1, -3.6, -4.3, -3.7, -4.5, -3.9, -4.2, -3.5, -4.1, -3.3, -3.9, -3.4, -4.1, -3.5, -4.3, -3.7, -4.2, -4.9, -4.3, -5.1, -4.5, -5.0, -4.3, -4.9, -4.1, -4.7, -4.4, -5.1, -4.5, -5.3, -4.7, -5.2, -5.9, -5.3, -6.1, -5.5, -6.0, -5.3, -5.9, -5.1, -5.7, -5.4, -4.7, -5.3, -4.5, -5.1, -4.8],
    [-4.4, -3.7, -4.3, -3.5, -4.1, -4.0, -4.7, -4.1, -4.9, -4.3, -4.8, -5.5, -4.9, -5.7, -5.1, -5.6, -4.9, -5.5, -4.7, -5.3, -5.0, -5.7, -5.1, -5.9, -5.3, -5.8, -5.1, -5.7, -4.9, -5.5, -5.2, -4.5, -5.1, -4.3, -4.9, -4.6, -5.3, -4.8, -5.6, -5.0, -5.6, -6.3, -5.7, -6.5, -5.9, -6.6, -7.3, -6.7, -7.5, -6.9, -7.0],
]

BLUE = "#0000ff"
RED = "#ff0000"

fig = plt.figure(figsize=(6.25, 5.11), dpi=100)
ax = fig.add_axes([0.109, 0.1135, 0.872, 0.8435])

blues = blue_upper + blue_mid + blue_lower
reds = red_high + red_mid + red_low
for i in range(max(len(blues), len(reds))):
    if i < len(blues):
        ax.plot(t, blues[i], color=BLUE, lw=0.9)
    if i < len(reds):
        ax.plot(t, reds[i], color=RED, lw=0.9, ls=(0, (7, 4)))

ax.set_xlim(0, 100)
ax.set_ylim(-15, 15)
ax.set_xticks(np.arange(0, 101, 10))
ax.set_yticks(np.arange(-15, 16, 5))
ax.grid(True, color="#dcdcdc", lw=0.7)
ax.set_axisbelow(True)
ax.tick_params(direction="in", length=3, labelsize=11, colors="#262626", width=0.7, pad=4)
for s in ("top", "right"):
    ax.spines[s].set_color("#dcdcdc")
    ax.spines[s].set_linewidth(0.7)
for s in ("left", "bottom"):
    ax.spines[s].set_color("#262626")
    ax.spines[s].set_linewidth(0.9)

ax.set_title("y component of velocity", fontsize=13, fontweight="bold", pad=4)
ax.set_xlabel("Discrete-time", fontsize=13, color="#262626", labelpad=10)
ax.set_ylabel("Velocity (m/s)", fontsize=13.5, color="#262626", labelpad=8)

fig.savefig("out.png", dpi=100)
